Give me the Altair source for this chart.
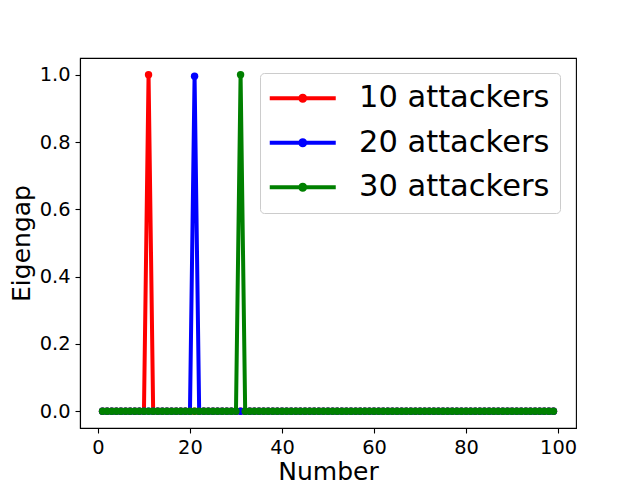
import altair as alt
import pandas as pd

# ---- data ----
numbers = list(range(1, 100))

series_names = ["10 attackers", "20 attackers", "30 attackers"]
series_colors = ["#ff0000", "#0000ff", "#008000"]

eig_10 = [
    0, 0, 0, 0, 0, 0, 0, 0, 0, 0,
    1.0, 0, 0, 0, 0, 0, 0, 0, 0, 0,
    0, 0, 0, 0, 0, 0, 0, 0, 0, 0,
    0, 0, 0, 0, 0, 0, 0, 0, 0, 0,
    0, 0, 0, 0, 0, 0, 0, 0, 0, 0,
    0, 0, 0, 0, 0, 0, 0, 0, 0, 0,
    0, 0, 0, 0, 0, 0, 0, 0, 0, 0,
    0, 0, 0, 0, 0, 0, 0, 0, 0, 0,
    0, 0, 0, 0, 0, 0, 0, 0, 0, 0,
    0, 0, 0, 0, 0, 0, 0, 0, 0,
]
eig_20 = [
    0, 0, 0, 0, 0, 0, 0, 0, 0, 0,
    0, 0, 0, 0, 0, 0, 0, 0, 0, 0,
    0.996, 0, 0, 0, 0, 0, 0, 0, 0, 0,
    0, 0, 0, 0, 0, 0, 0, 0, 0, 0,
    0, 0, 0, 0, 0, 0, 0, 0, 0, 0,
    0, 0, 0, 0, 0, 0, 0, 0, 0, 0,
    0, 0, 0, 0, 0, 0, 0, 0, 0, 0,
    0, 0, 0, 0, 0, 0, 0, 0, 0, 0,
    0, 0, 0, 0, 0, 0, 0, 0, 0, 0,
    0, 0, 0, 0, 0, 0, 0, 0, 0,
]
eig_30 = [
    0, 0, 0, 0, 0, 0, 0, 0, 0, 0,
    0, 0, 0, 0, 0, 0, 0, 0, 0, 0,
    0, 0, 0, 0, 0, 0, 0, 0, 0, 0,
    1.0, 0, 0, 0, 0, 0, 0, 0, 0, 0,
    0, 0, 0, 0, 0, 0, 0, 0, 0, 0,
    0, 0, 0, 0, 0, 0, 0, 0, 0, 0,
    0, 0, 0, 0, 0, 0, 0, 0, 0, 0,
    0, 0, 0, 0, 0, 0, 0, 0, 0, 0,
    0, 0, 0, 0, 0, 0, 0, 0, 0, 0,
    0, 0, 0, 0, 0, 0, 0, 0, 0,
]

x_ticks = [0, 20, 40, 60, 80, 100]
y_ticks = [0.0, 0.2, 0.4, 0.6, 0.8, 1.0]

rows = []
for name, vals in zip(series_names, [eig_10, eig_20, eig_30]):
    for n, v in zip(numbers, vals):
        rows.append({"Number": n, "Eigengap": v, "series": name})
df = pd.DataFrame(rows)

FONT = "DejaVu Sans"

x_enc = alt.X(
    "Number:Q",
    scale=alt.Scale(domain=[-3.9, 103.9], nice=False, zero=False),
    axis=alt.Axis(values=x_ticks, title="Number", format="d", titlePadding=3),
)
y_enc = alt.Y(
    "Eigengap:Q",
    scale=alt.Scale(domain=[-0.05, 1.05], nice=False, zero=False),
    axis=alt.Axis(values=y_ticks, title="Eigengap", format=".1f"),
)

legend_path = "M-3.3,0H3.3M0.25,0A0.25,0.25,0,1,1,-0.25,0A0.25,0.25,0,1,1,0.25,0Z"

color_enc = alt.Color(
    "series:N",
    scale=alt.Scale(domain=series_names, range=series_colors),
    legend=alt.Legend(
        title=None,
        orient="none",
        legendX=180,
        legendY=15,
        labelFont=FONT,
        labelFontSize=30.5,
        labelColor="black",
        labelLimit=0,
        labelOffset=41,
        symbolType=legend_path,
        symbolSize=400,
        symbolStrokeWidth=4,
        symbolOffset=17.5,
        symbolOpacity=1,
        rowPadding=13.5,
        padding=10,
        strokeColor="#cccccc",
        fillColor="white",
        cornerRadius=4,
    ),
)

base = alt.Chart(df)
layers = []
for name in series_names:
    sub = base.transform_filter(alt.datum.series == name)
    layers.append(
        sub.mark_line(strokeWidth=4, strokeJoin="miter").encode(
            x=x_enc, y=y_enc, color=color_enc
        )
    )
    layers.append(
        sub.mark_point(filled=True, size=55, opacity=1, shape="circle").encode(
            x=x_enc, y=y_enc, color=color_enc
        )
    )

chart = (
    alt.layer(*layers)
    .properties(
        width=496,
        height=370,
        autosize=alt.AutoSizeParams(type="none"),
        padding={"left": 72, "top": 50, "right": 56, "bottom": 52},
    )
    .configure_view(stroke="black", strokeWidth=1.1)
    .configure_axis(
        grid=False,
        domainColor="black",
        domainWidth=1.1,
        tickColor="black",
        tickWidth=1.1,
        tickSize=5,
        labelFont=FONT,
        labelFontSize=19.4,
        labelColor="black",
        labelPadding=5,
        titleFont=FONT,
        titleFontSize=25,
        titleFontWeight="normal",
        titleColor="black",
        titlePadding=5,
    )
)

chart.save("out.html", embed_options={"renderer": "svg", "actions": False})
